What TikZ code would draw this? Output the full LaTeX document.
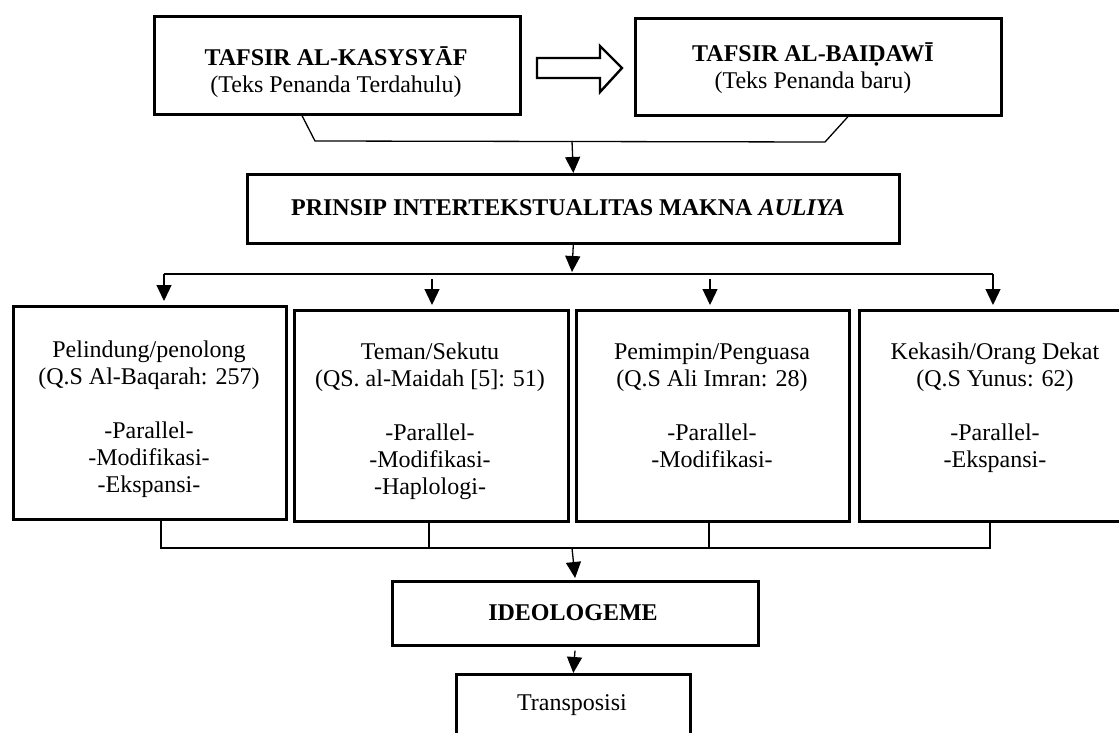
\documentclass[tikz,border=0pt]{standalone}
\usepackage{fontspec}
\setmainfont{Liberation Serif}
\usetikzlibrary{arrows.meta}
\begin{document}
\begin{tikzpicture}[x=0.5pt,y=-0.5pt,
  box/.style={draw, line width=1.3pt, inner sep=0pt, anchor=north west},
  txt/.style={align=center, inner sep=0pt, anchor=base, font=\fontsize{12pt}{13.5pt}\selectfont},
  conn/.style={line width=0.65pt},
  arr/.style={conn, -{Triangle[length=8pt,width=7.5pt]}},
  hollow/.style={draw, line width=1.2pt, line join=miter}
]
\useasboundingbox (0,0) rectangle (1119,733);
\fill[white] (0,0) rectangle (1119,733);

% top boxes (text anchored at the baseline of the last line)
\node[box, minimum width=183pt, minimum height=49pt] (k) at (153,15) {};
\node[txt] (kt) at (336,93) {\textbf{TAFSIR AL-KASYSYĀF}\\(Teks Penanda Terdahulu)};
\node[box, minimum width=183pt, minimum height=48.5pt] (b) at (634,17) {};
\node[txt] (bt) at (813,89) {\textbf{TAFSIR AL-BAIḌAWĪ}\\(Teks Penanda baru)};

% hollow arrow
\draw[hollow] (537,58) -- (600,58) -- (600,46) -- (622,68) -- (600,92) -- (600,78) -- (537,78) -- cycle;

% principle box
\node[box, minimum width=326pt, minimum height=34.5pt] (p) at (246,173) {};
\node[txt] (pt) at (568,215) {\textbf{PRINSIP INTERTEKSTUALITAS MAKNA \textit{AULIYA}}};

% row boxes
\node[box, minimum width=136.5pt, minimum height=106.5pt] (A) at (12,305) {};
\node[box, minimum width=137pt, minimum height=105.5pt] (B) at (293,309) {};
\node[box, minimum width=136.5pt, minimum height=105.5pt] (C) at (575,309) {};
\node[box, minimum width=132pt, minimum height=105.5pt] (D) at (858,309) {};
\node[txt] (At) at (149,492) {Pelindung/penolong\\(Q.S Al-Baqarah: 257)\\[13.5pt]-Parallel-\\-Modifikasi-\\-Ekspansi-};
\node[txt] (Bt) at (430,494) {Teman/Sekutu\\(QS. al-Maidah [5]: 51)\\[13.5pt]-Parallel-\\-Modifikasi-\\-Haplologi-};
\node[txt] (Ct) at (712,467) {Pemimpin/Penguasa\\(Q.S Ali Imran: 28)\\[13.5pt]-Parallel-\\-Modifikasi-};
\node[txt] (Dt) at (995,467) {Kekasih/Orang Dekat\\(Q.S Yunus: 62)\\[13.5pt]-Parallel-\\-Ekspansi-};

% bottom boxes
\node[box, minimum width=183pt, minimum height=32pt] (I) at (391,580) {};
\node[txt] (It) at (573,620) {\textbf{IDEOLOGEME}};
\node[box, minimum width=117pt, minimum height=50pt] (T) at (455,673) {};
\node[txt] (Tt) at (572,710) {Transposisi};

% connectors top
\coordinate (j1) at (572,141);
\draw[conn] (k.south -| 302,0) -- (315,141) -- (825,142) -- (b.south -| 848,0);
\draw[arr] (j1) -- (p.north);
\coordinate (j2) at (572,272);
\draw[arr] (p.south) -- (j2);

% distribution line
\coordinate (hA) at (164,274);
\coordinate (hB) at (432,279);
\coordinate (hC) at (710,279);
\coordinate (hD) at (993,274);
\draw[conn] (hA) -- (hD);
\draw[arr, shorten >=2pt] (hA) -- (A.north -| hA);
\draw[arr, shorten >=2pt] (hB) -- (B.north -| hB);
\draw[arr, shorten >=2pt] (hC) -- (C.north -| hC);
\draw[arr, shorten >=2pt] (hD) -- (D.north -| hD);

% collecting line
\coordinate (m) at (572,548);
\draw[conn] (A.south -| 161,0) -- (161,548) -- (990,548) -- (D.south -| 990,0);
\draw[conn] (B.south -| 429,0) -- (429,548);
\draw[conn] (C.south -| 709,0) -- (709,548);
\draw[arr, shorten >=1pt] (m) -- (I.north);
\draw[arr, shorten <=2pt] (I.south) -- (T.north);
\end{tikzpicture}
\end{document}
